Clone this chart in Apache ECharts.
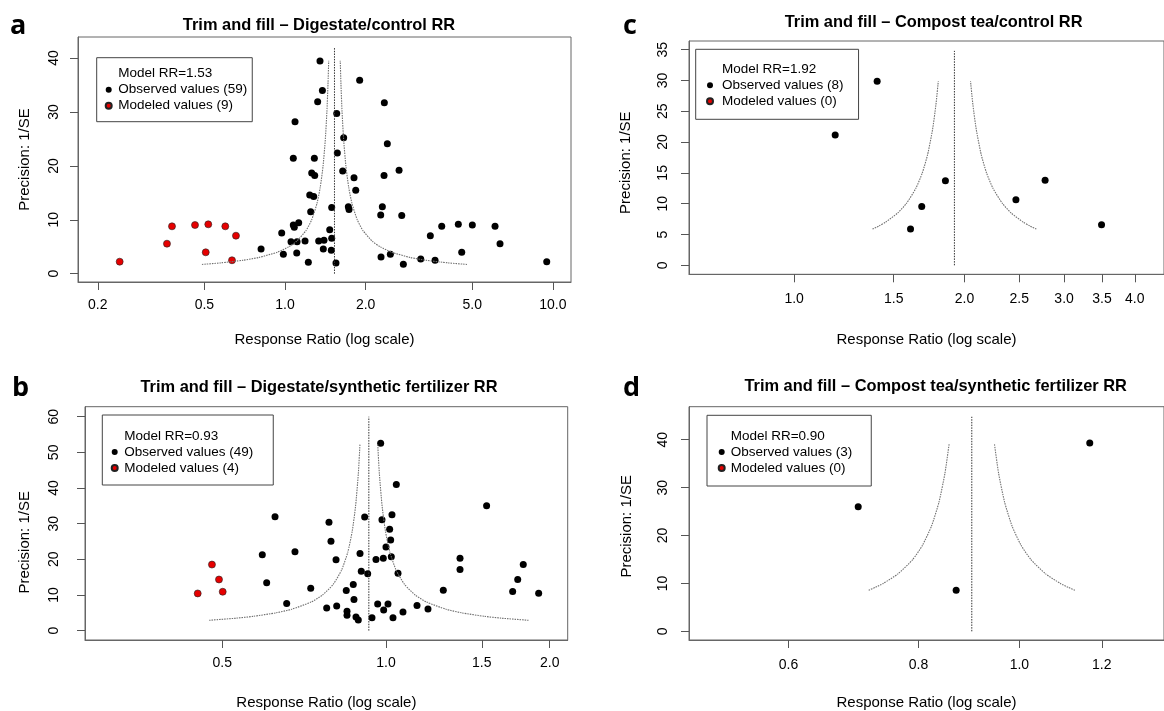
<!DOCTYPE html>
<html><head><meta charset="utf-8">
<script src="https://cdn.jsdelivr.net/npm/echarts@6/dist/echarts.min.js"></script>
<style>html,body{margin:0;padding:0;background:#fff}#chart{width:1164px;height:711px}</style>
</head><body><div id="chart"></div>
<script>
// ---------------- Panel a: Digestate/control ----------------
const A_MODEL_RR = 1.53;
const A_OBS_RR = [0.814,0.972,0.986,1.074,1.090,1.053,1.074,1.083,1.125,1.109,1.106,1.188,1.222,1.237,1.247,1.258,1.280,1.287,1.291,1.324,1.336,1.351,1.379,1.390,1.398,1.469,1.489,1.494,1.494,1.550,1.560,1.568,1.642,1.656,1.724,1.734,1.810,1.837,1.900,2.277,2.283,2.309,2.343,2.349,2.410,2.474,2.666,2.728,2.766,3.212,3.488,3.633,3.847,4.437,4.569,5.005,6.084,6.350,9.489];
const A_OBS_PREC = [4.58,7.55,3.60,21.4,28.2,5.94,9.04,8.6,9.46,5.94,3.84,6.07,2.11,14.6,11.5,18.7,14.3,21.4,18.2,31.9,6.07,39.46,34.0,4.58,6.2,8.17,4.34,6.57,12.3,1.98,29.7,22.4,19.05,25.2,12.4,11.9,17.8,15.5,35.9,10.9,3.1,12.4,18.2,31.7,24.1,3.6,19.2,10.8,1.74,2.73,7.05,2.49,8.79,9.16,3.97,9.03,8.79,5.57,2.23];
const A_MOD_RR = [0.2414,0.3625,0.3785,0.4613,0.517,0.5985,0.656,0.5058,0.634];
const A_MOD_PREC = [2.23,5.57,8.79,9.03,9.16,8.79,7.05,3.97,2.49];
const A_FUNNEL_PREC = [1.72,2,2.5,3,4,5,6,8,10,13,16,20,25,30,35,39.5];
const A_FUNNEL_LO = [0.4896,0.5743,0.6986,0.7961,0.9373,1.0338,1.1036,1.1975,1.2577,1.3159,1.3536,1.3872,1.4147,1.4332,1.4468,1.4560];
const A_FUNNEL_HI = [4.782,4.077,3.351,2.941,2.4975,2.2644,2.1211,1.9548,1.8614,1.7790,1.7294,1.6876,1.6548,1.6333,1.6182,1.6078];
const A_VLINE_PREC = [0, 42];
const A_X_TICKS = [0.2,0.5,1,2,5,10];
const A_Y_TICKS = [0,10,20,30,40];

// ---------------- Panel b: Digestate/synthetic fertilizer ----------------
const B_MODEL_RR = 0.93;
const B_OBS_RR = [0.5924,0.6035,0.6252,0.6568,0.6803,0.7272,0.7780,0.7856,0.7923,0.8094,0.8117,0.8452,0.8479,0.8479,0.8707,0.8733,0.8808,0.8894,0.8959,0.9007,0.9137,0.9255,0.9425,0.9585,0.9654,0.9777,0.9831,0.9887,0.9902,1.0000,1.0085,1.0156,1.0200,1.0228,1.0257,1.0301,1.0447,1.0522,1.0746,1.1404,1.1946,1.2746,1.3680,1.3680,1.5310,1.7095,1.7465,1.7880,1.9085];
const B_OBS_PREC = [21.3,13.4,31.95,7.63,22.1,11.9,6.33,30.4,25.05,19.9,6.9,11.27,5.4,4.28,12.94,8.75,3.8,2.96,21.6,16.66,31.87,15.93,3.63,19.93,7.44,52.56,31.1,20.3,5.76,23.48,7.44,28.4,25.44,20.7,32.5,3.63,41.0,16.1,5.2,7.07,6.04,11.35,20.3,17.14,35.0,10.99,14.34,18.53,10.5];
const B_MOD_RR = [0.4507,0.4787,0.4932,0.5010];
const B_MOD_PREC = [10.43,18.53,14.34,10.9];
const B_FUNNEL_PREC = [2.9,3.5,4,5,6,8,10,13,17,22,28,35,44,52.5];
const B_FUNNEL_LO = [0.4731,0.5312,0.5697,0.6284,0.6709,0.7279,0.7644,0.7999,0.8287,0.8507,0.8671,0.8793,0.8895,0.8959];
const B_FUNNEL_HI = [1.8282,1.6281,1.5180,1.3763,1.2893,1.1882,1.1314,1.0813,1.0436,1.0166,0.9974,0.9836,0.9724,0.9654];
const B_VLINE_PREC = [0, 60];
const B_X_TICKS = [0.5,1,1.5,2];
const B_Y_TICKS = [0,10,20,30,40,50,60];

// ---------------- Panel c: Compost tea/control ----------------
const C_MODEL_RR = 1.92;
const C_OBS_RR = [1.182,1.402,1.606,1.681,1.851,2.466,2.777,3.494];
const C_OBS_PREC = [21.16,29.87,5.88,9.56,13.71,10.63,13.82,6.58];
const C_MOD_RR = [];
const C_MOD_PREC = [];
const C_FUNNEL_PREC = [5.88,6.4,7,8.5,10,12.5,15,18,22,26,29.87];
const C_FUNNEL_LO = [1.3758,1.4136,1.4511,1.5246,1.5783,1.6413,1.6849,1.7219,1.7564,1.7806,1.7981];
const C_FUNNEL_HI = [2.6796,2.6080,2.5404,2.4179,2.3357,2.2459,2.1880,2.1408,2.0989,2.0703,2.0501];
const C_VLINE_PREC = [0, 34.8];
const C_X_TICKS = [1,1.5,2,2.5,3,3.5,4];
const C_Y_TICKS = [0,5,10,15,20,25,30,35];

// ---------------- Panel d: Compost tea/synthetic fertilizer ----------------
const D_MODEL_RR = 0.90;
const D_OBS_RR = [0.700,0.8694,1.1684];
const D_OBS_PREC = [26.0,8.59,39.3];
const D_MOD_RR = [];
const D_MOD_PREC = [];
const D_FUNNEL_PREC = [8.59,9.2,10,12,15,18,22,27,33,39.3];
const D_FUNNEL_LO = [0.7164,0.7273,0.7398,0.7644,0.7898,0.8071,0.8233,0.8370,0.8481,0.8562];
const D_FUNNEL_HI = [1.1307,1.1137,1.0948,1.0597,1.0256,1.0035,0.9838,0.9677,0.9550,0.9460];
const D_VLINE_PREC = [0, 44.8];
const D_X_TICKS = [0.6,0.8,1.0,1.2];
const D_Y_TICKS = [0,10,20,30,40];

const TITLES = ['Trim and fill \u2013 Digestate/control RR','Trim and fill \u2013 Digestate/synthetic fertilizer RR','Trim and fill \u2013 Compost tea/control RR','Trim and fill \u2013 Compost tea/synthetic fertilizer RR'];
const LETTERS = ['a','b','c','d'];
const X_NAME = 'Response Ratio (log scale)';
const Y_NAME = 'Precision: 1/SE';

// ---------------- layout (not data) ----------------
const FONT = '"Liberation Sans", Arial, Helvetica, sans-serif';
const zip = (xs, ys) => xs.map((x, i) => [x, ys[i]]);

const panels = [
  {model:A_MODEL_RR, obsRR:A_OBS_RR, obsP:A_OBS_PREC, modRR:A_MOD_RR, modP:A_MOD_PREC, fP:A_FUNNEL_PREC, fLo:A_FUNNEL_LO, fHi:A_FUNNEL_HI, vP:A_VLINE_PREC, xt:A_X_TICKS, yt:A_Y_TICKS,
   grid:{left:78, top:37, width:493, height:245}, x:[0.1687,11.69], y:[-1.54,43.91],
   xMargin:16, yMargin:17, xGap:50, yGap:46, yPad:0,
   legend:{left:96.7, top:57.7, padding:[8,5,8,7.5], itemWidth:9},
   title:[319,25], letter:[10,26]},
  {model:B_MODEL_RR, obsRR:B_OBS_RR, obsP:B_OBS_PREC, modRR:B_MOD_RR, modP:B_MOD_PREC, fP:B_FUNNEL_PREC, fLo:B_FUNNEL_LO, fHi:B_FUNNEL_HI, vP:B_VLINE_PREC, xt:B_X_TICKS, yt:B_Y_TICKS,
   grid:{left:85, top:406.7, width:482.7, height:234}, x:[0.2797,2.158], y:[-2.63,62.8],
   xMargin:16, yMargin:23.7, xGap:55, yGap:52.5, yPad:38,
   legend:{left:102.3, top:415, padding:[13,20,9,7.9], itemWidth:9},
   title:[319,387], letter:[12,388.6]},
  {model:C_MODEL_RR, obsRR:C_OBS_RR, obsP:C_OBS_PREC, modRR:C_MOD_RR, modP:C_MOD_PREC, fP:C_FUNNEL_PREC, fLo:C_FUNNEL_LO, fHi:C_FUNNEL_HI, vP:C_VLINE_PREC, xt:C_X_TICKS, yt:C_Y_TICKS,
   grid:{left:689, top:41, width:494, height:233.3}, x:[0.652,4.505], y:[-1.46,36.4],
   xMargin:18, yMargin:18.7, xGap:58, yGap:56, yPad:10,
   legend:{left:695.7, top:49.3, padding:[12,15,10,7.3], itemWidth:14},
   title:[933.6,22.7], letter:[623,26]},
  {model:D_MODEL_RR, obsRR:D_OBS_RR, obsP:D_OBS_PREC, modRR:D_MOD_RR, modP:D_MOD_PREC, fP:D_FUNNEL_PREC, fLo:D_FUNNEL_LO, fHi:D_FUNNEL_HI, vP:D_VLINE_PREC, xt:D_X_TICKS, yt:D_Y_TICKS,
   grid:{left:689, top:406.7, width:494, height:234}, x:[0.4814,1.377], y:[-1.81,46.9],
   xMargin:18.4, yMargin:19, xGap:55, yGap:54.5, yPad:6,
   legend:{left:707, top:415.3, padding:[12.7,19,10,10.7], itemWidth:8},
   title:[935.7,386], letter:[623,388]}
];

const grids = [], xAxes = [], yAxes = [], series = [], legends = [], graphics = [];
const AX = '#555';

panels.forEach((p, i) => {
  grids.push(Object.assign({show:true, borderColor:'#666', borderWidth:1, backgroundColor:'transparent'}, p.grid));
  xAxes.push({
    gridIndex:i, type:'log', min:p.x[0], max:p.x[1],
    name:X_NAME, nameLocation:'middle', nameGap:p.xGap,
    nameTextStyle:{fontFamily:FONT, fontSize:15, color:'#000'},
    axisLine:{show:true, onZero:false, lineStyle:{color:'#666', width:1}},
    axisTick:{show:true, length:8, lineStyle:{color:AX, width:1}, customValues:p.xt},
    axisLabel:{customValues:p.xt, margin:p.xMargin, fontFamily:FONT, fontSize:14, color:'#000',
      formatter:v => Number(v).toFixed(1)},
    splitLine:{show:false}, minorTick:{show:false}
  });
  yAxes.push({
    gridIndex:i, type:'value', min:p.y[0], max:p.y[1],
    name:Y_NAME, nameLocation:'middle', nameGap:p.yGap,
    nameTextStyle:{fontFamily:FONT, fontSize:15, color:'#000', padding:[0,p.yPad,0,0]},
    axisLine:{show:true, onZero:false, lineStyle:{color:'#666', width:1}},
    axisTick:{show:true, length:8, lineStyle:{color:AX, width:1}, customValues:p.yt},
    axisLabel:{customValues:p.yt, rotate:90, margin:p.yMargin, fontFamily:FONT, fontSize:14, color:'#000',
      formatter:v => String(Math.round(v))},
    splitLine:{show:false}
  });
  const modelName = 'Model RR=' + p.model.toFixed(2);
  const obsName = 'Observed values (' + p.obsRR.length + ')';
  const modName = 'Modeled values (' + p.modRR.length + ')';
  series.push({
    type:'line', name:'funnel-lo-' + i, xAxisIndex:i, yAxisIndex:i, data:zip(p.fLo, p.fP),
    symbol:'none', smooth:0.2, silent:true, lineStyle:{color:'#707070', width:1.1, type:[1.5,1]}
  });
  series.push({
    type:'line', name:'funnel-hi-' + i, xAxisIndex:i, yAxisIndex:i, data:zip(p.fHi, p.fP),
    symbol:'none', smooth:0.2, silent:true, lineStyle:{color:'#707070', width:1.1, type:[1.5,1]}
  });
  series.push({
    type:'line', name:modelName, xAxisIndex:i, yAxisIndex:i,
    data:p.vP.map(v => [p.model, v]), symbol:'none', silent:true,
    lineStyle:{color:'#333', width:1, type:[1.5,1.2]}, itemStyle:{color:'#333'}
  });
  series.push({
    type:'scatter', name:obsName, xAxisIndex:i, yAxisIndex:i, data:zip(p.obsRR, p.obsP),
    symbol:'circle', symbolSize:7, itemStyle:{color:'#000', opacity:1}
  });
  series.push({
    type:'scatter', name:modName, xAxisIndex:i, yAxisIndex:i, data:zip(p.modRR, p.modP),
    symbol:'circle', symbolSize:7, itemStyle:{color:'#e60000', borderColor:'#222', borderWidth:0.6, opacity:1}
  });
  legends.push({
    left:p.legend.left, top:p.legend.top, orient:'vertical', padding:p.legend.padding,
    itemWidth:p.legend.itemWidth, itemHeight:6, itemGap:0, selectedMode:false,
    borderColor:'#444', borderWidth:1, backgroundColor:'#fff',
    textStyle:{fontFamily:FONT, fontSize:13.5, color:'#000', lineHeight:16},
    data:[{name:modelName, icon:'none'}, {name:obsName, icon:'circle'}, {name:modName, icon:'circle'}]
  });
  graphics.push({type:'text', x:p.title[0], y:p.title[1], silent:true,
    style:{text:TITLES[i], fontFamily:FONT, fontSize:16.4, fontWeight:'bold', fill:'#000', align:'center', verticalAlign:'middle'}});
  graphics.push({type:'text', x:p.letter[0], y:p.letter[1], silent:true,
    style:{text:LETTERS[i], fontFamily:'"Open Sans", "DejaVu Sans", sans-serif', fontSize:27, fontWeight:'bold', fill:'#000', align:'left', verticalAlign:'middle'}});
});

const chart = echarts.init(document.getElementById('chart'), null, {renderer:'canvas'});
chart.setOption({
  animation:false,
  backgroundColor:'#fff',
  grid:grids, xAxis:xAxes, yAxis:yAxes, series:series, legend:legends,
  graphic:graphics
});
</script></body></html>
